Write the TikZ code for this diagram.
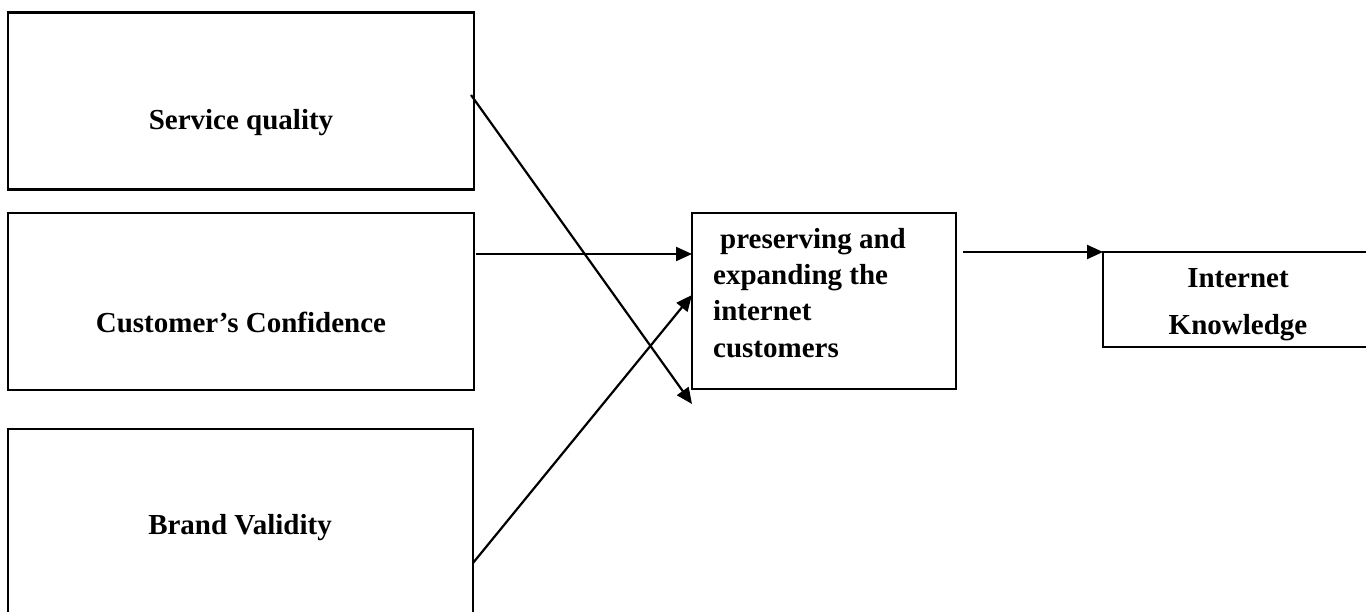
\documentclass[tikz,border=0pt]{standalone}
\usepackage{fontspec}
\setmainfont{Liberation Serif}
\usetikzlibrary{arrows.meta}
\begin{document}
\begin{tikzpicture}[x=1pt,y=-1pt,
  box/.style={draw,line width=2.2pt,inner sep=0pt},
  edge/.style={line width=2.2pt},
  lbl/.style={font=\bfseries\fontsize{29}{36}\selectfont,anchor=base,inner sep=0pt},
  lbll/.style={lbl,anchor=base west},
  arr/.style={line width=2.2pt,-{Triangle[length=16pt,width=14pt]}}]
\useasboundingbox (0,0) rectangle (1366,612);
% left boxes
\node[box,minimum width=466pt,minimum height=177pt] (sq) at (241,101) {};
\node[box,minimum width=466pt,minimum height=177pt] (cc) at (241,301.5) {};
\draw[edge] (8,640) -- (8,429) coordinate (bvtl) -- (473,429) -- (473,640);
\node[lbl] (sqt) at (241,130) {Service quality};
\node[lbl] (cct) at (241,333) {Customer’s Confidence};
\node[lbl] (bvt) at (240,534) {Brand Validity};
% middle box
\node[box,minimum width=264pt,minimum height=176pt] (mid) at (824,301) {};
\node[lbll] (m1) at (720,249) {preserving and};
\node[lbll] (m2) at (713,285) {expanding the};
\node[lbll] (m3) at (713,321) {internet};
\node[lbll] (m4) at (713,358) {customers};
% right box
\draw[edge] (1380,252) -- (1103,252) coordinate (ik) -- (1103,347) -- (1380,347);
\node[lbl] (ik1) at (1238,288) {Internet};
\node[lbl] (ik2) at (1238,335) {Knowledge};
% connectors
\coordinate (s1) at (471,95);
\coordinate (e1) at (692,404);
\coordinate (s2) at (476,254);
\coordinate (e2) at (692,254);
\coordinate (s3) at (473,563);
\coordinate (e3) at (692,295);
\coordinate (s4) at (963,252);
\draw[arr] (s1) -- (e1);
\draw[arr] (s2) -- (e2);
\draw[arr] (s3) -- (e3);
\draw[arr] (s4) -- (ik);
\end{tikzpicture}
\end{document}
